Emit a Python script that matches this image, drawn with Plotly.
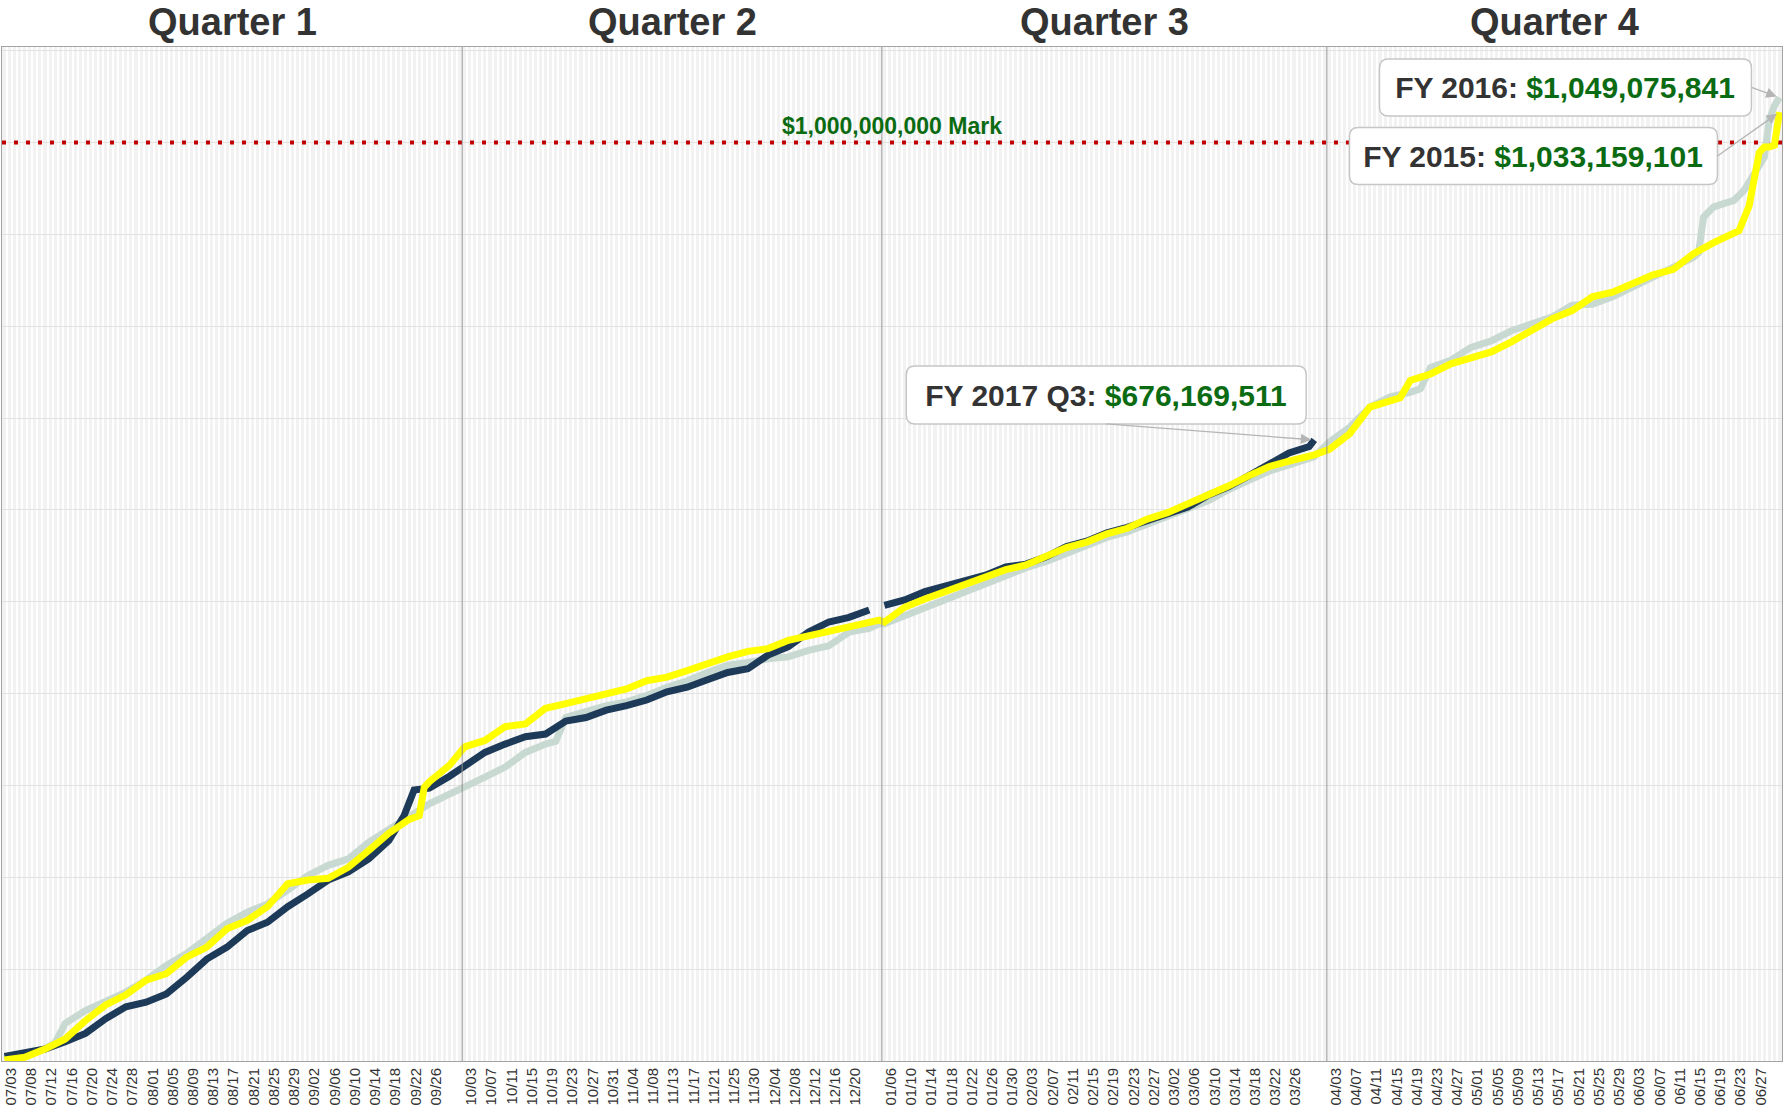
import plotly.graph_objects as go
import pandas as pd

# ---------------- axis categories (month/day), one pane per quarter ----------------
QUARTER_NAMES = ["Quarter 1", "Quarter 2", "Quarter 3", "Quarter 4"]
QUARTER_SPANS = [("2016-07-03", "2016-09-30"), ("2016-10-03", "2016-12-27"),
                 ("2016-01-06", "2016-03-31"), ("2016-04-03", "2016-07-02")]
QUARTER_SKIPPED = [["07/04"], ["11/11", "11/27", "12/25"], [], ["05/30"]]
PANE_UNITS = [91, 83, 88, 90]

TICK_LABELS = [
    ["07/03", "07/08", "07/12", "07/16", "07/20", "07/24", "07/28", "08/01", "08/05", "08/09", "08/13",
     "08/17", "08/21", "08/25", "08/29", "09/02", "09/06", "09/10", "09/14", "09/18", "09/22", "09/26"],
    ["10/03", "10/07", "10/11", "10/15", "10/19", "10/23", "10/27", "10/31", "11/04", "11/08", "11/13",
     "11/17", "11/21", "11/25", "11/30", "12/04", "12/08", "12/12", "12/16", "12/20"],
    ["01/06", "01/10", "01/14", "01/18", "01/22", "01/26", "01/30", "02/03", "02/07", "02/11", "02/15",
     "02/19", "02/23", "02/27", "03/02", "03/06", "03/10", "03/14", "03/18", "03/22", "03/26"],
    ["04/03", "04/07", "04/11", "04/15", "04/19", "04/23", "04/27", "05/01", "05/05", "05/09", "05/13",
     "05/17", "05/21", "05/25", "05/29", "06/03", "06/07", "06/11", "06/15", "06/19", "06/23", "06/27"],
]

# ---------------- series (cumulative, in millions of dollars) ----------------
FY2017_DATES = ["07/03", "07/08", "07/12", "07/16", "07/20", "07/24", "07/28", "08/01", "08/05", "08/09",
                "08/13", "08/17", "08/21", "08/25", "08/29", "09/02", "09/06", "09/10", "09/14", "09/18",
                "09/21", "09/23", "09/26", "09/30",
                "10/03", "10/07", "10/11", "10/15", "10/19", "10/23", "10/27", "10/31", "11/04", "11/08",
                "11/13", "11/17", "11/21", "11/25", "11/30", "12/04", "12/08", "12/12", "12/16", "12/20",
                "12/24", "12/27",
                "01/06", "01/10", "01/14", "01/18", "01/22", "01/26", "01/30", "02/03", "02/07", "02/11",
                "02/15", "02/19", "02/23", "02/27", "03/02", "03/06", "03/10", "03/14", "03/18", "03/22",
                "03/26", "03/30", "03/31"]
FY2017_VALUES = [5, 9, 13, 21, 30, 46, 59, 64, 73, 91,
                 111, 124, 142, 151, 168, 182, 197, 206, 220, 240,
                 267, 295, 297, 310,
                 322, 336, 345, 353, 356, 370, 374, 382, 387, 393,
                 402, 407, 415, 423, 427, 442, 451, 467, 478, 483,
                 491, None,
                 496, 502, 511, 517, 523, 529, 538, 541, 549, 560,
                 566, 575, 581, 589, 597, 603, 616, 625, 637, 649,
                 662, 669, 676.169511]

FY2016_DATES = ["07/03", "07/08", "07/12", "07/14", "07/16", "07/20", "07/24", "07/28", "08/01", "08/05",
                "08/09", "08/13", "08/17", "08/21", "08/25", "08/29", "09/02", "09/06", "09/10", "09/14",
                "09/18", "09/22", "09/26", "09/30",
                "10/03", "10/07", "10/11", "10/15", "10/19", "10/21", "10/23", "10/27", "10/31", "11/04",
                "11/08", "11/13", "11/17", "11/21", "11/25", "11/30", "12/04", "12/08", "12/12", "12/16",
                "12/20", "12/24", "12/27",
                "01/06", "01/10", "01/14", "01/18", "01/22", "01/26", "01/30", "02/03", "02/07", "02/11",
                "02/15", "02/19", "02/23", "02/27", "03/02", "03/06", "03/10", "03/14", "03/18", "03/22",
                "03/26", "03/30", "03/31",
                "04/03", "04/07", "04/11", "04/15", "04/19", "04/21", "04/23", "04/27", "05/01", "05/05",
                "05/09", "05/13", "05/17", "05/21", "05/25", "05/29", "06/03", "06/07", "06/11", "06/15",
                "06/16", "06/17", "06/19", "06/23", "06/25", "06/27", "06/29", "06/30", "07/01", "07/02"]
FY2016_VALUES = [3, 8, 13, 20, 41, 55, 64, 75, 88, 104,
                 117, 133, 150, 162, 171, 186, 202, 213, 220, 238,
                 251, 266, 280, 290,
                 298, 309, 320, 336, 345, 348, 374, 380, 387, 391,
                 398, 407, 414, 423, 431, 434, 438, 440, 447, 452,
                 467, 471, 476,
                 476, 485, 494, 503, 512, 519, 529, 537, 544, 553,
                 560, 570, 576, 585, 594, 601, 610, 622, 633, 642,
                 649, 655, 658,
                 674, 690, 712, 723, 728, 732, 755, 763, 777, 784,
                 795, 803, 810, 823, 824, 832, 843, 852, 864, 875,
                 880, 919, 930, 937, 948, 966, 984, 1025, 1040, 1049.075841]

FY2015_DATES = ["07/03", "07/08", "07/12", "07/16", "07/20", "07/24", "07/28", "08/01", "08/05", "08/09",
                "08/13", "08/17", "08/21", "08/25", "08/29", "09/02", "09/06", "09/10", "09/14", "09/18",
                "09/22", "09/24", "09/25", "09/26", "09/30",
                "10/03", "10/07", "10/11", "10/15", "10/19", "10/23", "10/27", "10/31", "11/04", "11/08",
                "11/13", "11/17", "11/21", "11/25", "11/30", "12/04", "12/08", "12/12", "12/16", "12/20",
                "12/24", "12/27",
                "01/06", "01/10", "01/14", "01/18", "01/22", "01/26", "01/30", "02/03", "02/07", "02/11",
                "02/15", "02/19", "02/23", "02/27", "03/02", "03/06", "03/10", "03/14", "03/18", "03/22",
                "03/26", "03/30", "03/31",
                "04/03", "04/07", "04/11", "04/15", "04/17", "04/19", "04/23", "04/27", "05/01", "05/05",
                "05/09", "05/13", "05/17", "05/21", "05/25", "05/29", "06/03", "06/07", "06/11", "06/15",
                "06/19", "06/23", "06/24", "06/26", "06/27", "06/28", "06/29", "06/30", "07/01", "07/02"]
FY2015_VALUES = [1, 4, 13, 24, 44, 61, 72, 88, 95, 113,
                 124, 144, 153, 168, 193, 197, 199, 211, 229, 248,
                 263, 267, 298, 304, 322,
                 342, 349, 364, 367, 384, 389, 394, 400, 405, 414,
                 418, 425, 433, 440, 446, 449, 458, 463, 467, 472,
                 478, 480,
                 478, 494, 503, 511, 518, 527, 535, 540, 549, 559,
                 565, 574, 580, 590, 597, 606, 616, 626, 637, 647,
                 653, 658, 660,
                 666, 683, 712, 719, 722, 741, 748, 759, 765, 772,
                 783, 795, 808, 817, 832, 837, 846, 856, 862, 879,
                 891, 903, 904, 931, 958, 989, 995, 995, 997, 1033.159101]

MARK_VALUE = 1_000_000_000

# ---------------- category positions ----------------
POS = {}
pane_starts = []
start = 0.0
for (a, b), skipped, width in zip(QUARTER_SPANS, QUARTER_SKIPPED, PANE_UNITS):
    days = [d.strftime("%m/%d") for d in pd.date_range(a, b)]
    days = [d for d in days if d not in skipped]
    for i, d in enumerate(days):
        POS[d] = start + 0.5 + i
    pane_starts.append(start)
    start += width
X_END = start

LABEL_SHIFT = 1.3
tickvals, ticktext = [], []
for labels in TICK_LABELS:
    for lab in labels:
        tickvals.append(POS[lab] + LABEL_SHIFT)
        ticktext.append(lab)

FONT = "Liberation Sans, Arial, sans-serif"
GREEN = "#0b6b12"
DARK = "#333333"

fig = go.Figure()

# $1B reference line (drawn first, beneath the series)
fig.add_trace(go.Scatter(
    x=[0, X_END], y=[MARK_VALUE, MARK_VALUE], mode="lines",
    line=dict(color="#c00000", width=4, dash="4px,8px"), hoverinfo="skip",
))

series = [
    ("FY 2016", FY2016_DATES, FY2016_VALUES, "#c8d9d1"),
    ("FY 2017", FY2017_DATES, FY2017_VALUES, "#1d3a58"),
    ("FY 2015", FY2015_DATES, FY2015_VALUES, "#ffff00"),
]
for name, dates, vals, color in series:
    fig.add_trace(go.Scatter(
        x=[POS[d] for d in dates],
        y=[None if v is None else v * 1e6 for v in vals],
        mode="lines", name=name, connectgaps=False,
        line=dict(color=color, width=7),
        hoverinfo="skip",
    ))

shapes = []
for s in pane_starts[1:]:
    shapes.append(dict(type="line", xref="x", yref="paper", x0=s, x1=s, y0=0, y1=1,
                       line=dict(color="#8f8f8f", width=1), layer="above"))

annotations = []
for name, s, w in zip(QUARTER_NAMES, pane_starts, PANE_UNITS):
    annotations.append(dict(x=s + w / 2, y=1, xref="x", yref="paper", yanchor="middle", yshift=25,
                            text=f"<b>{name}</b>", showarrow=False,
                            font=dict(family=FONT, size=38, color=DARK)))
annotations.append(dict(x=0.5, y=MARK_VALUE, xref="paper", yref="y", yanchor="bottom", yshift=2,
                        text=f"<b>${MARK_VALUE:,} Mark</b>", showarrow=False,
                        font=dict(family=FONT, size=23, color=GREEN)))

PAD = 6
RADIUS = 9


def rounded_box(xd, yd, cx, cy, w, h, r=RADIUS):
    """Rounded rectangle in pixels around (cx, cy) offset (screen px, y down) from a data point."""
    L, R = cx - w / 2, cx + w / 2
    T, B = -(cy - h / 2), -(cy + h / 2)  # pixel shapes measure y upwards
    path = (f"M{L + r},{B} L{R - r},{B} Q{R},{B} {R},{B + r} L{R},{T - r} Q{R},{T} {R - r},{T} "
            f"L{L + r},{T} Q{L},{T} {L},{T - r} L{L},{B + r} Q{L},{B} {L + r},{B} Z")
    return dict(type="path", xref="x", yref="y", xsizemode="pixel", ysizemode="pixel",
                xanchor=xd, yanchor=yd, path=path, fillcolor="white",
                line=dict(color="#c6c6c6", width=1.5), layer="above")


def callout(label, dates, vals, ax, ay, xanchor, yanchor, width, height):
    total = round(vals[-1] * 1e6)
    xd, yd = POS[dates[-1]], vals[-1] * 1e6
    W, H = width + 2 * PAD, height + 2 * PAD
    cx = ax + {"center": 0, "right": -W / 2, "left": W / 2}[xanchor]
    cy = ay + {"middle": 0, "bottom": -H / 2, "top": H / 2}[yanchor]
    shapes.append(rounded_box(xd, yd, cx, cy, W, H))
    return dict(
        x=xd, y=yd, xref="x", yref="y",
        ax=ax, ay=ay, xanchor=xanchor, yanchor=yanchor,
        text=f"<b>{label}: <span style='color:{GREEN}'>${total:,}</span></b>",
        font=dict(family=FONT, size=30, color=DARK),
        showarrow=True, arrowhead=2, arrowsize=1.6, arrowwidth=1.3, arrowcolor="#b5b5b5",
        standoff=3, borderpad=PAD, borderwidth=0,
        width=width, height=height, align="center", valign="middle",
    )


annotations.append(callout("FY 2017 Q3", FY2017_DATES, FY2017_VALUES, -208, -16, "center", "bottom", 388, 46))
annotations.append(callout("FY 2016", FY2016_DATES, FY2016_VALUES, -28, -10, "right", "middle", 360, 45))
annotations.append(callout("FY 2015", FY2015_DATES, FY2015_VALUES, -62, 44, "right", "middle", 356, 45))

fig.update_layout(
    width=1783, height=1110,
    margin=dict(l=2, r=1, t=47, b=49),
    paper_bgcolor="white", plot_bgcolor="#f2f2f2",
    showlegend=False,
    shapes=shapes, annotations=annotations,
    font=dict(family=FONT, color=DARK),
    xaxis=dict(range=[0, X_END], tickmode="array", tickvals=tickvals, ticktext=ticktext,
               tickangle=-90, tickfont=dict(family=FONT, size=15, color=DARK),
               showgrid=False, zeroline=False, showline=True, linecolor="#a3a3a3", linewidth=1,
               mirror=True, ticks="", automargin=False,
               minor=dict(tickmode="linear", tick0=0, dtick=1, showgrid=True,
                          gridcolor="white", gridwidth=2, ticks="")),
    yaxis=dict(range=[0, 1.104e9], tickmode="linear", tick0=0, dtick=1e8, showticklabels=False,
               showgrid=True, gridcolor="#e2e2e2", gridwidth=1, zeroline=False,
               showline=True, linecolor="#a3a3a3", linewidth=1, mirror=True, ticks=""),
)

fig.write_html("out.html", config={"displayModeBar": False},
               post_script="document.body.style.margin='0';document.body.style.overflow='hidden';")
